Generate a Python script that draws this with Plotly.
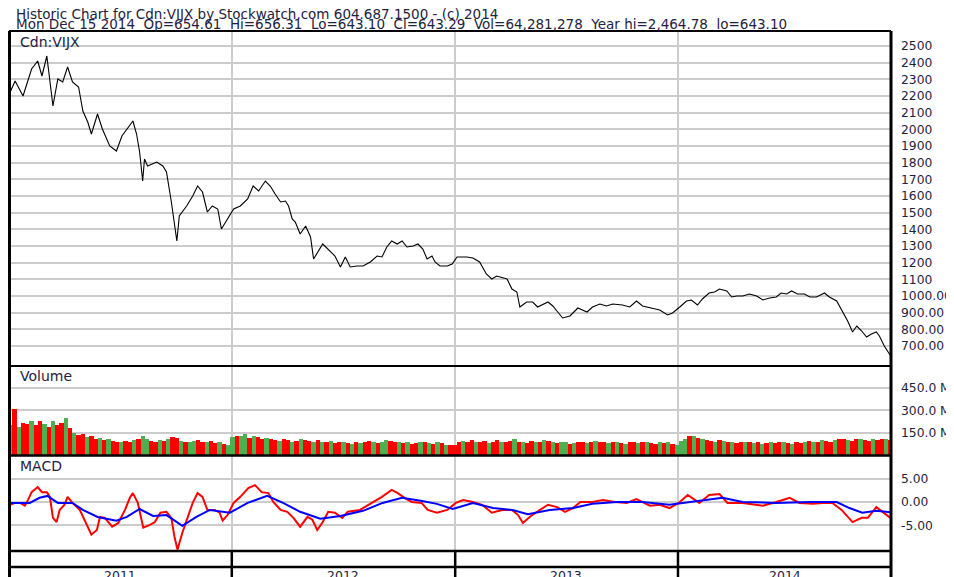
import plotly.graph_objects as go
import pandas as pd

# ---------------- data ----------------
price_dates = [
    "2011-01-03","2011-01-11","2011-01-24","2011-02-07","2011-02-17","2011-02-24","2011-03-04","2011-03-14",
    "2011-03-22","2011-03-30","2011-04-07","2011-04-15","2011-04-25","2011-05-02","2011-05-10","2011-05-16",
    "2011-05-26","2011-06-03","2011-06-15","2011-06-26","2011-07-05","2011-07-13","2011-07-23","2011-07-29",
    "2011-08-03","2011-08-08","2011-08-11","2011-08-16","2011-08-31","2011-09-10","2011-09-16","2011-09-24",
    "2011-10-03","2011-10-07","2011-10-19","2011-10-29","2011-11-06","2011-11-14","2011-11-22","2011-11-30",
    "2011-12-09","2011-12-15","2011-12-23",
    "2012-01-04","2012-01-15","2012-01-27","2012-02-05","2012-02-14","2012-02-25","2012-03-04","2012-03-12",
    "2012-03-21","2012-03-29","2012-04-03","2012-04-09","2012-04-14","2012-04-22","2012-05-01","2012-05-09",
    "2012-05-14","2012-05-29","2012-06-07","2012-06-18","2012-06-27","2012-07-05","2012-07-13","2012-07-24",
    "2012-08-03","2012-08-15","2012-08-26","2012-09-03","2012-09-11","2012-09-19","2012-09-28","2012-10-06",
    "2012-10-14","2012-10-24","2012-11-01","2012-11-09","2012-11-16","2012-11-24","2012-11-29","2012-12-07",
    "2012-12-19","2012-12-27",
    "2013-01-04","2013-01-20","2013-01-30","2013-02-10","2013-02-21","2013-03-02","2013-03-10","2013-03-27",
    "2013-04-04","2013-04-12","2013-04-17","2013-04-28","2013-05-08","2013-05-16","2013-06-02","2013-06-10",
    "2013-06-18","2013-06-26","2013-07-08","2013-07-21","2013-08-05","2013-08-14","2013-08-26","2013-09-06",
    "2013-09-16","2013-10-02","2013-10-14","2013-10-25","2013-11-04","2013-11-16","2013-12-02","2013-12-15",
    "2013-12-23",
    "2014-01-04","2014-01-15","2014-01-23","2014-02-02","2014-02-10","2014-02-21","2014-03-02","2014-03-10",
    "2014-03-22","2014-03-30","2014-04-07","2014-04-17","2014-04-28","2014-05-10","2014-05-20","2014-05-31",
    "2014-06-11","2014-06-19","2014-06-28","2014-07-06","2014-07-16","2014-07-27","2014-08-05","2014-08-16",
    "2014-08-29","2014-09-06","2014-09-18","2014-09-28","2014-10-06","2014-10-14","2014-10-21","2014-10-29",
    "2014-11-06","2014-11-14","2014-11-22","2014-11-27","2014-12-05","2014-12-15",
]
price_values = [
    2224,2290,2200,2362,2410,2320,2440,2140,
    2302,2284,2374,2284,2254,2110,2044,1972,
    2092,2002,1900,1870,1960,2002,2050,1972,
    1864,1690,1822,1780,1804,1780,1744,1564,
    1330,1480,1540,1600,1660,1624,1504,1540,
    1522,1402,1450,
    1522,1540,1582,1660,1630,1690,1660,1612,
    1564,1570,1540,1462,1444,1372,1420,1354,
    1222,1312,1282,1240,1174,1234,1174,1180,
    1180,1204,1240,1234,1294,1330,1312,1330,
    1294,1300,1312,1282,1222,1240,1204,1180,
    1180,1192,
    1234,1234,1228,1204,1132,1102,1120,1102,
    1042,1024,934,964,964,934,964,940,
    904,868,880,928,904,934,952,940,
    952,946,934,970,940,928,916,886,
    898,
    934,970,976,946,982,1018,1024,1042,
    1030,994,1000,1000,1012,1000,976,988,
    994,1018,1012,1030,1012,1012,994,994,
    1018,994,970,904,850,784,820,790,
    754,772,784,760,700,643.29,
]

macd_dates = [
    "2011-01-03","2011-01-11","2011-01-19","2011-01-27","2011-02-01","2011-02-07","2011-02-17","2011-02-24",
    "2011-03-04","2011-03-09","2011-03-14","2011-03-20","2011-03-25","2011-04-02","2011-04-07","2011-04-15",
    "2011-04-27","2011-05-08","2011-05-16","2011-05-25","2011-05-30","2011-06-07","2011-06-19","2011-06-29",
    "2011-07-10","2011-07-18","2011-07-23","2011-07-31","2011-08-09","2011-08-20","2011-08-28","2011-09-06",
    "2011-09-16","2011-09-24","2011-09-29","2011-10-04","2011-10-12","2011-10-21","2011-10-29","2011-11-06",
    "2011-11-14","2011-11-22","2011-12-04","2011-12-12","2011-12-17","2011-12-25",
    "2012-01-04","2012-01-15","2012-01-28","2012-02-08","2012-02-19","2012-03-01","2012-03-09","2012-03-21",
    "2012-04-01","2012-04-11","2012-04-22","2012-05-04","2012-05-12","2012-05-20","2012-05-29","2012-06-07",
    "2012-06-18","2012-06-30","2012-07-09","2012-07-29","2012-08-17","2012-09-03","2012-09-19","2012-09-29",
    "2012-10-10","2012-10-22","2012-11-07","2012-11-17","2012-12-02","2012-12-19",
    "2013-01-02","2013-01-14","2013-01-30","2013-02-14","2013-03-02","2013-03-19","2013-04-04","2013-04-14",
    "2013-04-22","2013-05-03","2013-05-15","2013-06-02","2013-06-17","2013-06-30","2013-07-13","2013-07-25",
    "2013-08-14","2013-08-31","2013-09-20","2013-10-09","2013-10-25","2013-11-16","2013-12-02","2013-12-18",
    "2014-01-02","2014-01-17","2014-02-05","2014-02-21","2014-03-10","2014-03-23","2014-04-17","2014-05-20",
    "2014-06-11","2014-07-03","2014-07-19","2014-08-10","2014-08-26","2014-09-11","2014-09-26","2014-10-14",
    "2014-10-29","2014-11-08","2014-11-22","2014-12-02","2014-12-15",
]
macd_values = [
    -0.6,-0.2,-0.2,-0.8,0.4,2.1,3.2,2.1,
    2.1,1.1,-3.4,-4.3,-1.7,-0.6,1.1,-0.2,
    -1.7,-4.9,-7.0,-6.0,-3.2,-3.4,-5.3,-4.5,
    -1.7,0.9,1.9,-0.2,-5.5,-4.9,-4.3,-2.3,
    -2.1,-3.4,-7.4,-10.2,-6.6,-3.2,-0.2,1.9,
    1.1,-1.7,-1.7,-2.3,-4.0,-2.8,
    -0.2,1.1,3.0,3.6,2.1,1.9,0.0,-1.7,
    -2.1,-3.4,-5.3,-3.2,-3.8,-6.0,-4.3,-2.1,
    -2.3,-3.4,-2.1,-1.7,-0.2,1.1,2.6,1.9,
    0.9,0.0,-0.2,-1.7,-2.3,-1.7,
    -0.2,0.4,0.0,-0.6,-2.3,-1.7,-1.7,-2.8,
    -4.5,-3.2,-2.1,-0.6,-1.1,-2.1,-1.3,0.0,
    0.0,0.4,0.0,-0.2,0.6,-0.8,-0.6,-1.3,
    -0.2,1.5,-0.2,1.5,1.7,-0.2,-0.2,-0.8,
    0.0,0.9,-0.2,-0.4,-0.2,-0.2,-1.7,-4.3,
    -3.4,-3.4,-1.1,-2.1,-3.4,
]

signal_dates = [
    "2011-01-03","2011-02-04","2011-02-20","2011-03-05","2011-03-22","2011-04-15","2011-05-02","2011-05-26",
    "2011-06-26","2011-07-13","2011-08-03","2011-08-25","2011-09-16","2011-10-12","2011-11-04","2011-11-26",
    "2011-12-29","2012-01-27","2012-02-28","2012-03-25","2012-04-22","2012-05-25","2012-06-27","2012-08-03",
    "2012-09-04","2012-10-06","2012-11-08","2012-12-02","2012-12-28","2013-01-30","2013-03-04","2013-04-05",
    "2013-04-30","2013-06-05","2013-07-13","2013-08-14","2013-09-23","2013-11-04","2013-12-18","2014-01-25",
    "2014-03-15","2014-04-17","2014-06-11","2014-08-05","2014-09-18","2014-10-09","2014-10-30","2014-11-22",
    "2014-12-10","2014-12-15",
]
signal_values = [
    -0.2,-0.2,0.9,1.3,-0.2,-0.2,-1.7,-3.2,
    -4.0,-3.2,-1.5,-3.0,-2.8,-5.1,-3.2,-1.7,
    -2.3,-0.2,1.3,-0.2,-2.1,-3.6,-3.0,-1.9,
    -0.2,0.9,0.2,-0.4,-1.5,-0.2,-1.3,-1.7,
    -2.6,-1.7,-1.3,-0.4,0.0,0.0,-0.6,0.0,
    0.9,0.0,-0.2,0.0,0.0,-1.3,-2.3,-1.9,
    -2.1,-2.2,
]

# weekly volume (millions), one bar per week starting Mon 2011-01-03
volume_m = [
    # 2011
    200,310,190,215,205,225,200,230,210,190,225,200,215,245,180,150,135,140,120,125,
    110,115,100,105,95,90,85,95,90,100,110,130,105,95,90,100,95,110,120,115,
    95,90,85,95,100,90,85,95,80,90,75,70,
    # 2012
    120,130,125,140,115,130,120,110,115,
    105,100,95,110,100,90,95,105,100,95,90,100,85,90,95,80,85,90,80,75,
    85,80,90,95,85,80,90,100,95,85,90,80,85,75,80,85,90,80,75,85,80,70,65,70,
    # 2013
    90,95,85,100,90,85,95,80,90,100,85,90,95,105,90,85,80,95,90,85,
    100,95,85,80,90,85,75,80,85,90,80,85,95,90,85,80,90,85,80,75,
    85,90,80,85,90,80,75,85,80,90,75,70,
    # 2014
    95,110,125,130,115,105,100,95,90,100,95,85,90,80,85,90,85,80,85,75,
    80,85,80,90,85,80,75,85,80,90,95,85,90,100,95,90,100,105,110,100,
    95,105,110,100,95,105,100,110,105,100,
]
# G = up week, R = down week
volume_dir = "".join([
    "GRGRRGRRGR", "GRRGRGRRGR", "RGRGRRGRRG", "RGGRRGRGRR", "GRGGRRGRRG", "RG",
    "GRGGRGRRGR", "RGRRGRGRRG", "RGRGRRGRGR", "GRRGRGGRRG", "RGRRGRGRGR", "GRR",
    "RGRRGRRGRR", "GRRGRGRRGR", "GRGRGGRGRR", "GRGRRGRGRG", "RRGRGRRGRG", "RG",
    "GGRGRGRRGR", "GRGRRGRGRG", "RGRRGRGRRG", "RGRGRRGRRG", "RRGRRGRRGR",
])
volume_dates = pd.date_range("2011-01-03", periods=len(volume_m), freq="7D")

year_labels = ["2011", "2012", "2013", "2014"]
year_starts = ["2011-01-01", "2012-01-01", "2013-01-01", "2014-01-01"]
year_mids = ["2011-07-02", "2012-07-02", "2013-07-02", "2014-06-26"]

price_ticks = [700, 800, 900, 1000, 1100, 1200, 1300, 1400, 1500, 1600, 1700,
               1800, 1900, 2000, 2100, 2200, 2300, 2400, 2500]
price_ticktext = ["700.00", "800.00", "900.00", "1000.00"] + [str(v) for v in price_ticks[4:]]
vol_ticks = [150e6, 300e6, 450e6]
vol_ticktext = ["150.0 M", "300.0 M", "450.0 M"]
macd_ticks = [-5, 0, 5]
macd_ticktext = ["-5.00", "0.00", "5.00"]

header1 = "Historic Chart for Cdn:VIJX by Stockwatch.com 604.687.1500 - (c) 2014"
header2_parts = ["Mon Dec 15 2014", "Op=654.61", "Hi=656.31", "Lo=643.10", "Cl=643.29",
                 "Vol=64,281,278", "Year hi=2,464.78", "lo=643.10"]

# ---------------- layout geometry ----------------
# coordinates below are page pixels of the target; the page body adds an 8px offset
W, H = 954, 577
OFF = 8
PL, PR, PT, PB = 9, 891, 31, 551
def fy(ypx):
    return (PB - ypx) / (PB - PT)
def fx(xpx):
    return (xpx - PL) / (PR - PL)

FONT = "DejaVu Sans, Verdana, sans-serif"
TXT = "#1e2240"
GRID = "#cccccc"

fig = go.Figure()
fig.add_trace(go.Scatter(x=pd.to_datetime(price_dates), y=price_values, mode="lines",
                         line=dict(color="black", width=1.1), xaxis="x", yaxis="y"))
vol_colors = ["#4caf50" if (volume_dir[i] if i < len(volume_dir) else "R") == "G" else "#ff0000"
              for i in range(len(volume_m))]
fig.add_trace(go.Bar(x=volume_dates, y=[v * 1e6 for v in volume_m], marker_color=vol_colors,
                     marker_line_width=0, width=7 * 86400000, xaxis="x", yaxis="y2"))
fig.add_trace(go.Scatter(x=pd.to_datetime(macd_dates), y=macd_values, mode="lines",
                         line=dict(color="#ff0000", width=2), xaxis="x", yaxis="y3"))
fig.add_trace(go.Scatter(x=pd.to_datetime(signal_dates), y=signal_values, mode="lines",
                         line=dict(color="#0000ff", width=2), xaxis="x", yaxis="y3"))

axis_font = dict(family=FONT, size=12.3, color=TXT)
fig.update_layout(
    width=W, height=H, showlegend=False, bargap=0,
    margin=dict(l=PL - OFF, r=W - (PR - OFF), t=PT - OFF, b=H - (PB - OFF), pad=0),
    paper_bgcolor="white", plot_bgcolor="white",
    xaxis=dict(type="date", range=["2011-01-01", "2014-12-16"], showticklabels=False,
               tickvals=year_starts, showgrid=True, gridcolor=GRID, gridwidth=2,
               zeroline=False, anchor="y3", ticks=""),
    yaxis=dict(domain=[fy(366), 1], range=[580, 2590], side="right",
               tickvals=price_ticks, ticktext=price_ticktext, tickfont=axis_font,
               gridcolor=GRID, gridwidth=1.5, zeroline=False, ticks="", ticklabelstandoff=9),
    yaxis2=dict(domain=[fy(455), fy(367)], range=[0, 590e6], side="right",
                tickvals=vol_ticks, ticktext=vol_ticktext, tickfont=axis_font,
                gridcolor=GRID, gridwidth=1.5, zeroline=False, ticks="", ticklabelstandoff=9),
    yaxis3=dict(domain=[0, fy(456)], range=[-10.5, 9.85], side="right",
                tickvals=macd_ticks, ticktext=macd_ticktext, tickfont=axis_font,
                gridcolor=GRID, gridwidth=1.5, zeroline=False, ticks="", ticklabelstandoff=9),
)

shapes = []
def hline(ypx, x0=PL, x1=PR, w=2):
    shapes.append(dict(type="line", xref="paper", yref="paper", x0=fx(x0), x1=fx(x1),
                       y0=fy(ypx), y1=fy(ypx), line=dict(color="black", width=w)))
def vline(xpx, y0, y1, w=2, color="black"):
    shapes.append(dict(type="line", xref="paper", yref="paper", x0=fx(xpx), x1=fx(xpx),
                       y0=fy(y0), y1=fy(y1), line=dict(color=color, width=w)))

# panel frames
hline(PT, w=2)
hline(366, w=2)
hline(455.5, w=2.5)
hline(551, w=2.5)
hline(567, w=2.5)
vline(PL + 0.5, PT, H + 12, w=3)
vline(PR, PT, H + 12, w=3)
# bottom strips: year separators
for xs in year_starts[1:]:
    shapes.append(dict(type="line", xref="x", yref="paper", x0=xs, x1=xs,
                       y0=fy(551), y1=fy(H + 12), line=dict(color="black", width=2.5)))
fig.update_layout(shapes=shapes)

ann = []
ann.append(dict(text=header1, x=fx(14), y=fy(14), xref="paper", yref="paper",
                xanchor="left", yanchor="middle", showarrow=False,
                font=dict(family=FONT, size=13.5, color=TXT)))
ann.append(dict(text="\u00a0\u00a0".join(header2_parts), x=fx(14), y=fy(24), xref="paper",
                yref="paper", xanchor="left", yanchor="middle", showarrow=False,
                font=dict(family=FONT, size=13.5, color=TXT)))
for label, ypx in [("Cdn:VIJX", 42), ("Volume", 376), ("MACD", 466)]:
    ann.append(dict(text=label, x=fx(18), y=fy(ypx), xref="paper", yref="paper",
                    xanchor="left", yanchor="middle", showarrow=False,
                    font=dict(family=FONT, size=14, color=TXT)))
for lab, xm in zip(year_labels, year_mids):
    ann.append(dict(text=lab, x=xm, y=fy(575), xref="x", yref="paper",
                    xanchor="center", yanchor="middle", showarrow=False,
                    font=dict(family=FONT, size=12.5, color=TXT)))
fig.update_layout(annotations=ann)

fig.write_html("out.html")
